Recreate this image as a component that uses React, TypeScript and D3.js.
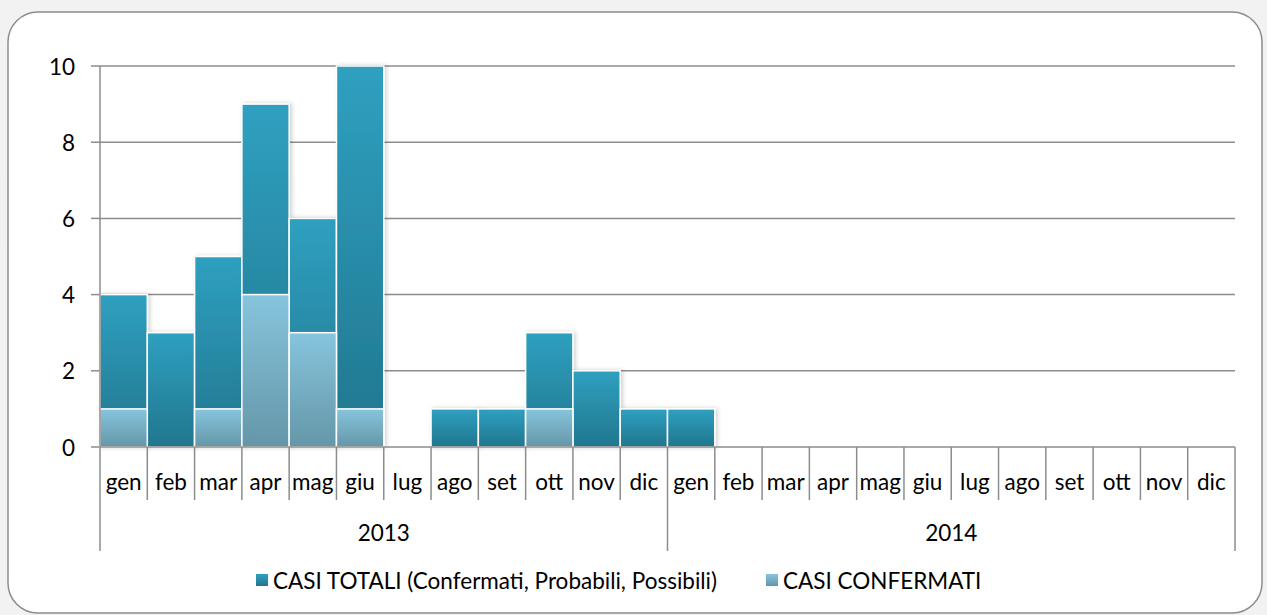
import React from "react";
import * as d3 from "d3";

const months = ["gen","feb","mar","apr","mag","giu","lug","ago","set","ott","nov","dic"];
const years = ["2013", "2014"];
const totalCases = [4,3,5,9,6,10,0,1,1,3,2,1, 1,0,0,0,0,0,0,0,0,0,0,0];
const confirmedCases = [1,0,1,4,3,1,0,0,0,1,0,0, 0,0,0,0,0,0,0,0,0,0,0,0];
const yTicks = [0,2,4,6,8,10];
const seriesNames = ["CASI TOTALI (Confermati, Probabili, Possibili)", "CASI CONFERMATI"];

const W = 1267, H = 615;
const left = 100, right = 1235, top = 66, bottom = 447;
const font = "Lato, 'Open Sans', sans-serif";
const fs = 22.5;

export default function App() {
  const cats = d3.range(24).map(String);
  const x = d3.scaleBand().domain(cats).range([left, right]).padding(0);
  const y = d3.scaleLinear().domain([0, 10]).range([bottom, top]);
  const bw = x.bandwidth();
  const yearX = d3.scaleBand().domain(years).range([left, right]);

  return (
    <svg width={W} height={H} style={{ position: "fixed", left: 0, top: 0, background: "#f2f2f2" }}>
      <defs>
        <linearGradient id="gTot" x1="0" y1="0" x2="0" y2="1">
          <stop offset="0" stopColor="#2fa0c0" />
          <stop offset="1" stopColor="#21768e" />
        </linearGradient>
        <linearGradient id="gConf" x1="0" y1="0" x2="0" y2="1">
          <stop offset="0" stopColor="#86c5dd" />
          <stop offset="1" stopColor="#6596a8" />
        </linearGradient>
        <linearGradient id="lTot" x1="0" y1="0" x2="0" y2="1">
          <stop offset="0" stopColor="#2fa0c0" />
          <stop offset="1" stopColor="#21768e" />
        </linearGradient>
        <filter id="sh" x="-20%" y="-20%" width="140%" height="140%">
          <feDropShadow dx="2" dy="0" stdDeviation="2" floodColor="#000" floodOpacity="0.18" />
        </filter>
      </defs>
      <rect x={8} y={12} width={1254} height={601} rx={30} ry={30} fill="#fff" stroke="#8c8c8c" strokeWidth={1.5} />
      {yTicks.filter(t => t > 0).map(t => (
        <line key={t} x1={left} x2={right} y1={y(t)} y2={y(t)} stroke="#8c8c8c" strokeWidth={1.5} />
      ))}
      {yTicks.map(t => (
        <g key={"yt" + t}>
          <line x1={left - 9} x2={left} y1={y(t)} y2={y(t)} stroke="#8c8c8c" strokeWidth={1.5} />
          <text x={left - 25} y={y(t)} textAnchor="end" dominantBaseline="central" fontFamily={font} fontSize={fs} fill="#000">{t}</text>
        </g>
      ))}
      {totalCases.map((v, i) => v > 0 ? (
        <rect key={"t" + i} x={x(String(i))!} y={y(v)} width={bw} height={y(0) - y(v)} fill="url(#gTot)" stroke="#fff" strokeWidth={1.5} filter="url(#sh)" />
      ) : null)}
      {confirmedCases.map((v, i) => v > 0 ? (
        <rect key={"c" + i} x={x(String(i))!} y={y(v)} width={bw} height={y(0) - y(v)} fill="url(#gConf)" stroke="#fff" strokeWidth={1.5} />
      ) : null)}
      <line x1={left} x2={left} y1={top} y2={bottom} stroke="#8c8c8c" strokeWidth={1.5} />
      <line x1={left} x2={right} y1={bottom} y2={bottom} stroke="#8c8c8c" strokeWidth={1.5} />
      {d3.range(25).map(i => {
        const xx = left + i * bw;
        const long = i % 12 === 0;
        return <line key={"xt" + i} x1={xx} x2={xx} y1={bottom} y2={long ? 551 : 500} stroke="#8c8c8c" strokeWidth={1.5} />;
      })}
      {cats.map((c, i) => (
        <text key={"ml" + i} x={x(c)! + bw / 2} y={481} textAnchor="middle" dominantBaseline="central" fontFamily={font} fontSize={fs} fill="#000">{months[i % 12]}</text>
      ))}
      {years.map(yv => (
        <text key={yv} x={yearX(yv)! + yearX.bandwidth() / 2} y={532} textAnchor="middle" dominantBaseline="central" fontFamily={font} fontSize={fs} fill="#000">{yv}</text>
      ))}
      <rect x={256} y={574} width={12} height={12} fill="url(#lTot)" />
      <text x={273} y={580} dominantBaseline="central" fontFamily={font} fontSize={fs} fill="#000">{seriesNames[0]}</text>
      <rect x={766} y={574} width={12} height={12} fill="url(#gConf)" />
      <text x={783} y={580} dominantBaseline="central" fontFamily={font} fontSize={fs} fill="#000">{seriesNames[1]}</text>
    </svg>
  );
}
